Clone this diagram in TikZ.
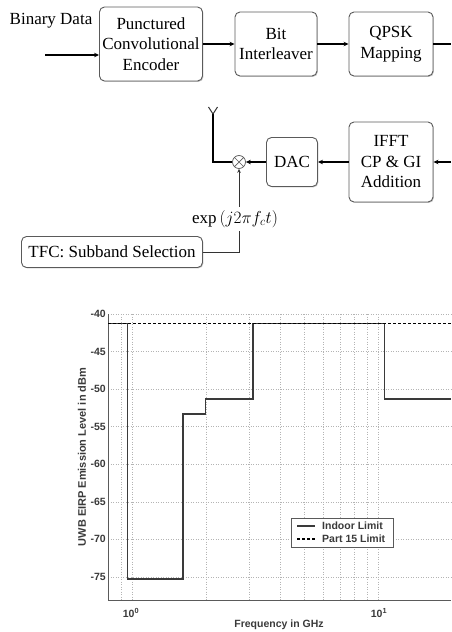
\documentclass[tikz,border=0pt]{standalone}
\usepackage{fontspec}
\setmainfont{Liberation Serif}
\newfontfamily\plotfont{Liberation Sans}
\usetikzlibrary{arrows.meta, shadows}
\definecolor{boxgray}{HTML}{5A5A5A}
\definecolor{curvegray}{HTML}{3A3A3A}
\definecolor{gridgray}{HTML}{B4B4B4}
\newcommand{\freqx}[1]{132+246*log10(#1)}
\newcommand{\dbmy}[1]{314-7.51*(40+(#1))}
\tikzset{
  blockbox/.style={draw=boxgray, line width=0.9pt, rounded corners=5pt, fill=white, align=center, inner sep=0pt,
    font=\fontsize{17}{20.5}\selectfont, drop shadow={shadow xshift=0.9pt, shadow yshift=-0.9pt, opacity=0.45}},
  sigarrow/.style={line width=1.8pt, -{Stealth[length=5pt, width=4.5pt]}},
  sigline/.style={line width=1.8pt},
  thinline/.style={line width=1pt, draw=black!80},
  gridline/.style={gridgray, line width=0.45pt, dash pattern=on 1pt off 1.5pt},
  axisline/.style={boxgray, line width=0.8pt},
  curve/.style={curvegray, line width=1.4pt},
  limitdash/.style={black, line width=1.1pt, dash pattern=on 3pt off 2pt},
  ticklabel/.style={font=\plotfont\bfseries\fontsize{10.5}{12}\selectfont, text=curvegray},
}
\begin{document}
\begin{tikzpicture}[x=1pt, y=-1pt]
\useasboundingbox (0,0) rectangle (451,632);

% transmitter chain
\node[font=\fontsize{17}{20.5}\selectfont] (bintxt) at (51,21) {Binary Data};
\node[blockbox, minimum width=103pt, minimum height=74pt] (enc) at (151,44) {Punctured\\Convolutional\\Encoder};
\node[blockbox, minimum width=82pt, minimum height=64pt] (intl) at (276,44) {Bit\\Interleaver};
\node[blockbox, minimum width=84pt, minimum height=64pt] (qpsk) at (391,44) {QPSK\\Mapping};
\coordinate (binin) at (45,55);
\coordinate (qout) at (451,44);
\draw[sigarrow] (binin) -- (binin -| enc.west);
\draw[sigarrow] (enc) -- (intl);
\draw[sigarrow] (intl) -- (qpsk);
\draw[sigline] (qpsk.east) -- (qout);

\node[blockbox, minimum width=84pt, minimum height=80pt] (ifft) at (391,162) {IFFT\\CP \& GI\\Addition};
\node[blockbox, minimum width=51pt, minimum height=49pt] (dac) at (292,162) {DAC};
\node[draw=boxgray, fill=white, circle, minimum size=13pt, inner sep=0pt, line width=0.7pt] (mix) at (239,162) {};
\draw[boxgray, line width=0.7pt] (mix.north west) -- (mix.south east) (mix.north east) -- (mix.south west);
\coordinate (iin) at (451,162);
\coordinate (antfoot) at (213,162);
\coordinate (anttop) at (213,114);
\draw[sigarrow] (iin) -- (ifft.east);
\draw[sigarrow] (ifft) -- (dac);
\draw[sigarrow] (dac) -- (mix);
\draw[sigline] (mix.west) -- (antfoot) -- (anttop);
\draw[thinline] (anttop) -- ++(-4.5,-7) (anttop) -- ++(4.5,-7);

\node[blockbox, minimum width=181pt, minimum height=31pt] (tfc) at (112,252) {TFC: Subband Selection};
\node[font=\fontsize{17}{20.5}\selectfont] (osc) at (235,219) {$\exp\,(j2\pi f_c t)$};
\draw[thinline] (tfc.east) -| (mix.south |- osc.south);
\draw[thinline, -{Stealth[length=4pt, width=3.5pt]}] (mix.south |- osc.north) -- (mix.south);

% emission mask
\foreach \f in {0.9,1,2,3,4,5,6,7,8,9,10,20}
  \draw[gridline] ({\freqx{\f}},314) -- ({\freqx{\f}},600);
\foreach \v in {-40,-45,...,-75} {
  \draw[gridline] (108,{\dbmy{\v}}) -- (451,{\dbmy{\v}});
  \node[ticklabel, anchor=east, inner sep=1pt] (ytk\v) at (107,{\dbmy{\v}}) {\v};
}
\draw[axisline] (108,314) -- (108,600) -- (451,600);
\node[ticklabel] (xtk0) at (131,613) {10\textsuperscript{0}};
\node[ticklabel] (xtk1) at (379,613) {10\textsuperscript{1}};
\node[ticklabel] (xlab) at (279,625) {Frequency in GHz};
\node[ticklabel, rotate=90, font=\plotfont\bfseries\fontsize{11}{12}\selectfont] (ylab) at (82,457) {UWB EIRP Emission Level in dBm};

\draw[curve] (108,{\dbmy{-41.3}}) -| ({\freqx{0.96}},{\dbmy{-75.3}})
  -| ({\freqx{1.61}},{\dbmy{-53.3}}) -| ({\freqx{1.99}},{\dbmy{-51.3}})
  -| ({\freqx{3.1}},{\dbmy{-41.3}}) -| ({\freqx{10.6}},{\dbmy{-51.3}}) -- (451,{\dbmy{-51.3}});
\draw[limitdash] (108,{\dbmy{-41.3}}) -- (451,{\dbmy{-41.3}});

\node[draw=boxgray, fill=white, line width=0.5pt, minimum width=102pt, minimum height=29pt, inner sep=0pt] (legend) at (342,532.5) {};
\coordinate (lg1) at (297,526);
\coordinate (lg2) at (297,539);
\draw[curve] (lg1) -- ++(18,0);
\draw[limitdash] (lg2) -- ++(18,0);
\node[ticklabel, anchor=west, inner sep=1pt] (lgt1) at (321,526) {Indoor Limit};
\node[ticklabel, anchor=west, inner sep=1pt] (lgt2) at (321,539) {Part 15 Limit};
\end{tikzpicture}
\end{document}
